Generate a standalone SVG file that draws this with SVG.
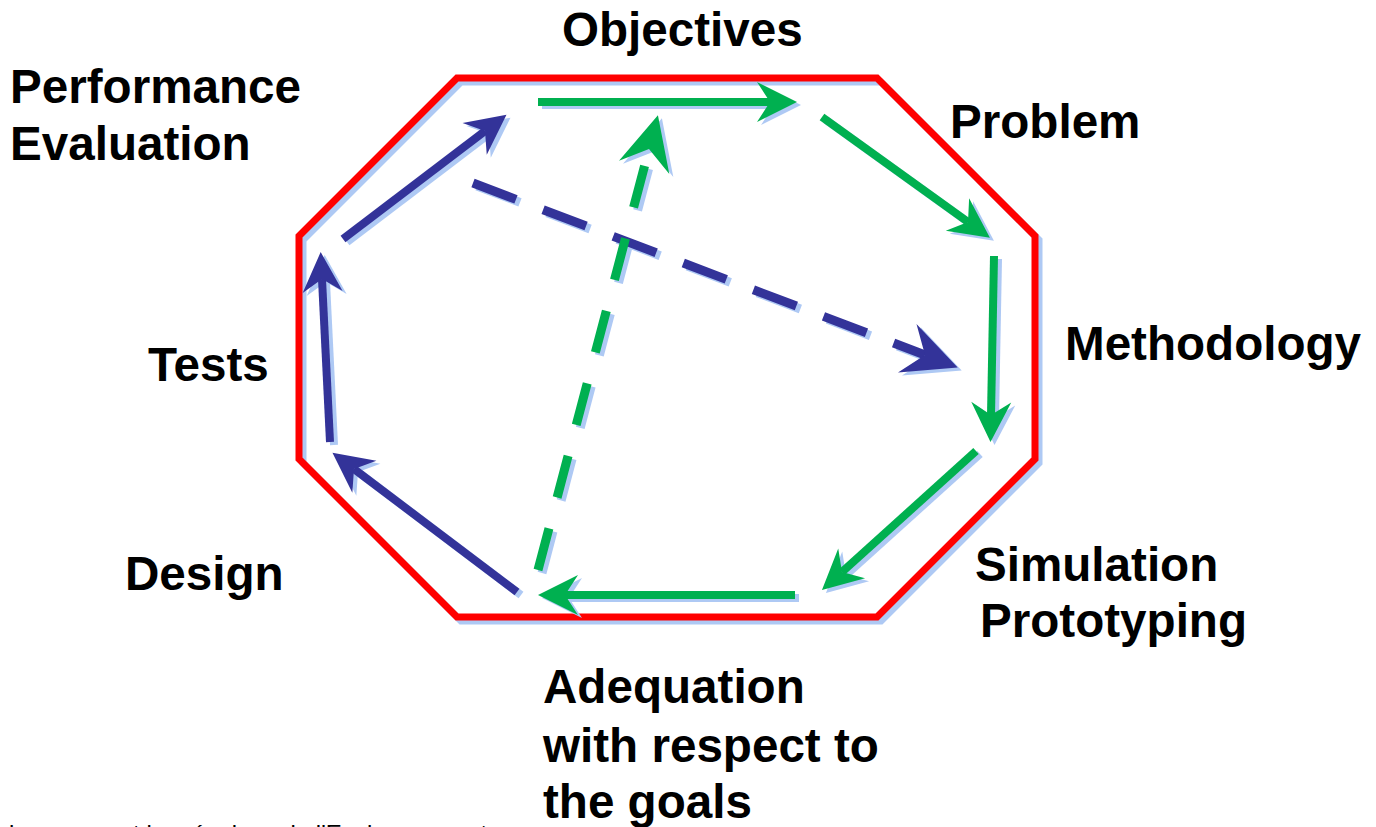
<svg xmlns="http://www.w3.org/2000/svg" width="1376" height="827" viewBox="0 0 1376 827">
<style>
.lbl{font-family:"Liberation Sans",Arial,sans-serif;font-weight:bold;font-size:47.6px;fill:#000}
.foot{font-family:"Liberation Sans",Arial,sans-serif;font-size:24px;fill:#000}
.g{fill:none;stroke:#00B050;stroke-width:8;marker-end:url(#hg)}
.b{fill:none;stroke:#333399;stroke-width:8;marker-end:url(#hb)}
.gd{fill:none;stroke:#00B050;stroke-width:9;stroke-dasharray:43 32;marker-end:url(#hgB)}
.bd{fill:none;stroke:#333399;stroke-width:9;stroke-dasharray:46 29;marker-end:url(#hbB)}
.s{fill:none;stroke:#AEC9F4;stroke-width:8;marker-end:url(#hs)}
.sd{fill:none;stroke:#AEC9F4;stroke-width:9;marker-end:url(#hsB)}
</style>
<defs>
<marker id="hg" markerUnits="userSpaceOnUse" markerWidth="40" markerHeight="40" refX="13" refY="20" orient="auto" overflow="visible"><path d="M0,0 L40,20 L0,40 L13,20 Z" fill="#00B050"/></marker>
<marker id="hb" markerUnits="userSpaceOnUse" markerWidth="40" markerHeight="40" refX="13" refY="20" orient="auto" overflow="visible"><path d="M0,0 L40,20 L0,40 L13,20 Z" fill="#333399"/></marker>
<marker id="hs" markerUnits="userSpaceOnUse" markerWidth="40" markerHeight="40" refX="13" refY="20" orient="auto" overflow="visible"><path d="M0,0 L40,20 L0,40 L13,20 Z" fill="#AEC9F4"/></marker>
<marker id="hgB" markerUnits="userSpaceOnUse" markerWidth="54" markerHeight="52" refX="19" refY="26" orient="auto" overflow="visible"><path d="M0,0 L54,26 L0,52 L19,26 Z" fill="#00B050"/></marker>
<marker id="hbB" markerUnits="userSpaceOnUse" markerWidth="54" markerHeight="52" refX="19" refY="26" orient="auto" overflow="visible"><path d="M0,0 L54,26 L0,52 L19,26 Z" fill="#333399"/></marker>
<marker id="hsB" markerUnits="userSpaceOnUse" markerWidth="54" markerHeight="52" refX="19" refY="26" orient="auto" overflow="visible"><path d="M0,0 L54,26 L0,52 L19,26 Z" fill="#AEC9F4"/></marker>
</defs>
<rect width="1376" height="827" fill="#fff"/>
<g id="octagon">
<polygon points="457,78 877,78 1035,236 1035,459 877,617 457,617 299,459 299,236" fill="none" stroke="#AEC9F4" stroke-width="7" transform="translate(4,4)"/>
<polygon points="457,78 877,78 1035,236 1035,459 877,617 457,617 299,459 299,236" fill="none" stroke="#FF0000" stroke-width="7"/>
</g>
<g id="connectors">
<g id="shadows" transform="translate(4,3)">
<path class="s" d="M538,102 L770,102"/>
<path class="s" d="M822,117 L968,222"/>
<path class="s" d="M994,256 L991,415"/>
<path class="s" d="M976,451 L842,572"/>
<path class="s" d="M795,595 L565,595"/>
<path class="s" d="M343,239 L485,131"/>
<path class="s" d="M330,442 L322,279"/>
<path class="s" d="M517,592 L354,469"/>
<path class="sd" style="stroke-dasharray:46 29" d="M473,183 L925,355"/>
<path class="sd" style="stroke-dasharray:43 32" d="M538,570 L649,149"/>
</g>
<path id="e-obj-prob" class="g" d="M538,102 L770,102"/>
<path id="e-prob-meth" class="g" d="M822,117 L968,222"/>
<path id="e-meth-sim" class="g" d="M994,256 L991,415"/>
<path id="e-sim-adeq" class="g" d="M976,451 L842,572"/>
<path id="e-adeq-design" class="g" d="M795,595 L565,595"/>
<path id="e-tests-perf" class="b" d="M343,239 L485,131"/>
<path id="e-design-tests" class="b" d="M330,442 L322,279"/>
<path id="e-adeq-design2" class="b" d="M517,592 L354,469"/>
<path id="e-perf-meth" class="bd" d="M473,183 L925,355"/>
<path id="e-adeq-obj" class="gd" d="M538,570 L649,149"/>
</g>
<g id="n-objectives"><text class="lbl" x="562" y="46">Objectives</text></g>
<g id="n-performance"><text class="lbl" x="10" y="103">Performance</text><text class="lbl" x="10" y="160">Evaluation</text></g>
<g id="n-problem"><text class="lbl" x="950" y="138">Problem</text></g>
<g id="n-methodology"><text class="lbl" x="1065" y="360">Methodology</text></g>
<g id="n-tests"><text class="lbl" x="148" y="381">Tests</text></g>
<g id="n-design"><text class="lbl" x="125" y="590">Design</text></g>
<g id="n-simulation"><text class="lbl" x="975" y="581">Simulation</text><text class="lbl" x="980" y="637">Prototyping</text></g>
<g id="n-adequation"><text class="lbl" x="543" y="703">Adequation</text><text class="lbl" x="543" y="762">with respect to</text><text class="lbl" x="543" y="818">the goals</text></g>
<g id="footer"><text class="foot" x="9" y="842">inversement les réunions de l'Environnement</text></g>
</svg>
